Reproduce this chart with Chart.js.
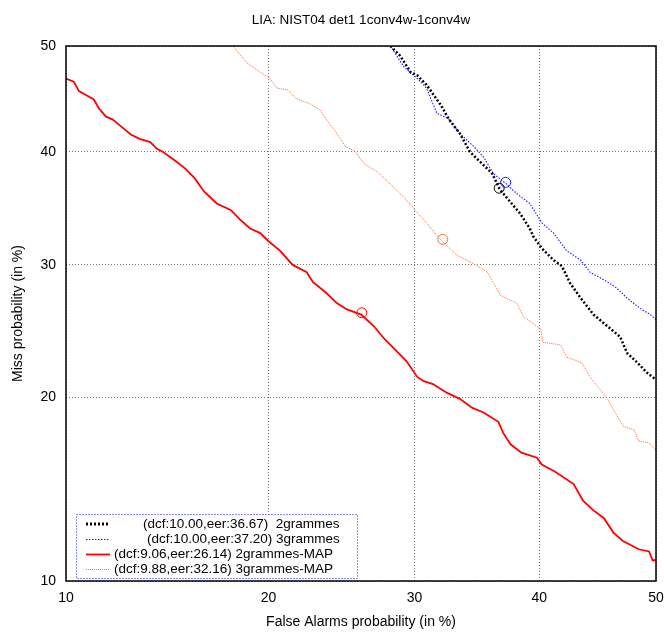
<!DOCTYPE html>
<html>
<head>
<meta charset="utf-8">
<script src="https://cdn.jsdelivr.net/npm/chart.js@4.4.0/dist/chart.umd.min.js"></script>
<style>
  html, body { margin: 0; padding: 0; background: #fff; }
</style>
</head>
<body>
<canvas id="detChart" width="664" height="632"></canvas>
<script>
// axis ticks (percent)
const tickValues = [10, 20, 30, 40, 50]

// 2grammes
const fa2g = [28.2, 28.9, 29.7, 30.2, 30.9, 32.0, 32.6, 33.5, 34.3, 35.1, 36.1, 36.7, 37.3, 38.4, 39.2, 39.5, 40.2, 41.2, 41.9, 42.6, 43.5, 44.6, 45.8, 46.9, 47.5, 48.4, 49.2, 50.0]
const miss2g = [50.0, 49.1, 47.5, 47.2, 46.3, 44.4, 43.1, 41.7, 40.0, 39.1, 38.0, 36.6, 35.8, 34.4, 33.1, 32.4, 31.4, 30.4, 29.9, 28.5, 27.3, 26.0, 25.1, 24.3, 23.1, 22.4, 21.7, 21.2]

// 3grammes
const fa3g = [28.2, 29.2, 30.2, 30.9, 31.7, 32.6, 33.5, 34.6, 35.4, 36.2, 37.2, 38.1, 39.2, 40.2, 41.2, 42.3, 43.5, 44.3, 45.8, 46.6, 47.5, 48.6, 49.5, 50.0]
const miss3g = [50.0, 48.0, 46.9, 46.0, 43.6, 43.1, 41.7, 40.5, 39.5, 38.0, 37.1, 36.2, 35.3, 33.6, 32.7, 31.2, 30.4, 29.4, 28.6, 28.1, 27.3, 26.5, 26.0, 25.6]

// 2grammes-MAP
const fa2gMap = [10.0, 10.3, 10.5, 10.8, 11.1, 11.3, 11.6, 11.9, 12.3, 12.7, 13.1, 13.6, 13.9, 14.2, 14.8, 15.3, 15.8, 16.3, 17.0, 17.8, 18.3, 18.9, 19.5, 20.0, 20.7, 21.5, 22.4, 22.8, 23.7, 24.4, 25.1, 26.1, 27.0, 27.8, 28.4, 29.4, 30.2, 30.7, 31.4, 32.5, 33.5, 34.5, 35.4, 36.6, 37.0, 37.6, 38.5, 39.8, 40.2, 41.3, 42.9, 43.7, 44.6, 45.5, 46.3, 47.1, 48.5, 49.4, 49.7, 50.0]
const miss2gMap = [46.9, 46.6, 45.7, 45.3, 44.9, 44.1, 43.3, 43.0, 42.3, 41.6, 41.2, 40.9, 40.3, 40.0, 39.2, 38.5, 37.6, 36.4, 35.3, 34.7, 33.9, 33.1, 32.7, 32.0, 31.2, 30.0, 29.4, 28.6, 27.7, 26.9, 26.4, 26.0, 25.1, 24.1, 23.5, 22.5, 21.4, 21.1, 20.9, 20.3, 19.9, 19.3, 19.0, 18.4, 17.7, 17.0, 16.5, 16.2, 15.8, 15.4, 14.7, 13.8, 13.3, 12.9, 12.2, 11.8, 11.4, 11.3, 10.9, 10.9]

// 3grammes-MAP
const fa3gMap = [17.9, 18.7, 19.5, 20.1, 20.5, 21.2, 21.7, 22.6, 23.3, 23.7, 24.3, 25.0, 25.7, 26.3, 27.2, 28.4, 29.4, 30.2, 30.9, 32.1, 33.3, 34.6, 35.7, 36.8, 38.1, 38.7, 40.1, 40.3, 41.8, 42.3, 43.6, 44.3, 45.2, 45.8, 46.3, 47.2, 48.1, 48.5, 49.4, 50.0]
const miss3gMap = [50.0, 48.4, 47.5, 46.9, 46.0, 45.8, 45.0, 44.5, 43.9, 43.0, 41.9, 40.5, 40.0, 38.9, 38.2, 36.8, 35.6, 34.5, 33.6, 32.0, 30.8, 30.1, 29.4, 27.5, 26.9, 25.8, 24.9, 23.9, 23.7, 22.8, 22.4, 21.4, 20.5, 19.9, 19.2, 18.1, 17.9, 17.2, 17.1, 16.6]

// operating points (eer) and legend text
const eerValues = [36.67, 37.20, 26.14, 32.16]
const legendLabels = [
    '(dcf:10.00,eer:36.67)  2grammes',
    '(dcf:10.00,eer:37.20) 3grammes',
    '(dcf:9.06,eer:26.14) 2grammes-MAP',
    '(dcf:9.88,eer:32.16) 3grammes-MAP'
]
const chartTitle = 'LIA: NIST04 det1 1conv4w-1conv4w'

// inverse normal cdf (Acklam), used for the DET axes
const probit = (p) => {
    const a = [-39.69683028665376, 220.9460984245205, -275.9285104469687, 138.3577518672690, -30.66479806614716, 2.506628277459239]
    const b = [-54.47609879822406, 161.5858368580409, -155.6989798598866, 66.80131188771972, -13.28068155288572]
    const c = [-0.007784894002430293, -0.3223964580411365, -2.400758277161838, -2.549732539343734, 4.374664141464968, 2.938163982698783]
    const d = [0.007784695709041462, 0.3224671290700398, 2.445134137142996, 3.754408661907416]
    const pl = 0.02425
    let q, r
    if (p < pl) {
        q = Math.sqrt(-2 * Math.log(p))
        return (((((c[0]*q+c[1])*q+c[2])*q+c[3])*q+c[4])*q+c[5]) / ((((d[0]*q+d[1])*q+d[2])*q+d[3])*q+1)
    }
    if (p > 1 - pl) {
        q = Math.sqrt(-2 * Math.log(1 - p))
        return -(((((c[0]*q+c[1])*q+c[2])*q+c[3])*q+c[4])*q+c[5]) / ((((d[0]*q+d[1])*q+d[2])*q+d[3])*q+1)
    }
    q = p - 0.5
    r = q * q
    return (((((a[0]*r+a[1])*r+a[2])*r+a[3])*r+a[4])*r+a[5])*q / (((((b[0]*r+b[1])*r+b[2])*r+b[3])*r+b[4])*r+1)
}

const normCdf = (z) => {
    const t = 1 / (1 + 0.3275911 * Math.abs(z) / Math.SQRT2)
    const y = 1 - (((((1.061405429*t - 1.453152027)*t) + 1.421413741)*t - 0.284496736)*t + 0.254829592)*t * Math.exp(-z*z/2)
    return z >= 0 ? (1 + y) / 2 : (1 - y) / 2
}

class ProbitScale extends Chart.Scale {
    static id = 'probit'
    static defaults = {}

    determineDataLimits() {
        this.min = this.options.min
        this.max = this.options.max
    }
    buildTicks() {
        return tickValues.map(v => ({ value: v }))
    }
    configure() {
        super.configure()
        this._zMin = probit(this.min / 100)
        this._zMax = probit(this.max / 100)
    }
    getLabelForValue(value) {
        return String(value)
    }
    getPixelForValue(value) {
        const z = probit(value / 100)
        return this.getPixelForDecimal((z - this._zMin) / (this._zMax - this._zMin))
    }
    getPixelForTick(index) {
        return this.getPixelForValue(this.ticks[index].value)
    }
    getValueForPixel(pixel) {
        const z = this._zMin + this.getDecimalForPixel(pixel) * (this._zMax - this._zMin)
        return normCdf(z) * 100
    }
}
Chart.register(ProbitScale)

const toPoints = (xs, ys) => xs.map((x, i) => ({ x: x, y: ys[i] }))

const seriesColors = ['#000000', '#1a1aff', '#ff0000', '#ff6a33']
const seriesDash = [[2, 2], [1.5, 1.5], [], [1, 1]]
const seriesWidth = [2.5, 1.1, 1.8, 1]

const curves = [
    toPoints(fa2g, miss2g),
    toPoints(fa3g, miss3g),
    toPoints(fa2gMap, miss2gMap),
    toPoints(fa3gMap, miss3gMap)
]

let datasets = curves.map((pts, i) => ({
    label: legendLabels[i],
    data: pts,
    showLine: true,
    borderColor: seriesColors[i],
    borderWidth: seriesWidth[i],
    borderDash: seriesDash[i],
    pointRadius: 0,
    tension: 0
}))

eerValues.forEach((v, i) => {
    datasets.push({
        label: 'eer' + i,
        data: [{ x: v, y: v }],
        showLine: false,
        pointRadius: 5,
        pointBorderWidth: 1,
        pointBorderColor: seriesColors[i],
        pointBackgroundColor: 'rgba(0,0,0,0)'
    })
})

const fontFamily = "'Liberation Sans', Arial, sans-serif"

// frame, title over the plot area and key box like gnuplot
const detDecor = {
    id: 'detDecor',
    afterDraw(chart) {
        const ctx = chart.ctx
        const area = chart.chartArea
        ctx.save()
        ctx.strokeStyle = '#000'
        ctx.lineWidth = 1.5
        ctx.strokeRect(area.left, area.top, area.right - area.left, area.bottom - area.top)

        ctx.fillStyle = '#000'
        ctx.font = '13.5px ' + fontFamily
        ctx.textAlign = 'center'
        ctx.textBaseline = 'middle'
        ctx.fillText(chartTitle, (area.left + area.right) / 2, 20)

        const box = { left: 76.5, top: 514.5, right: 357.5, bottom: 578.5 }
        ctx.fillStyle = '#fff'
        ctx.fillRect(box.left, box.top, box.right - box.left, box.bottom - box.top)
        ctx.setLineDash([1, 2])
        ctx.lineWidth = 1
        ctx.strokeStyle = '#1a1aff'
        ctx.strokeRect(box.left, box.top, box.right - box.left, box.bottom - box.top)

        const rowY = [524, 539.5, 554.5, 569.5]
        const textX = [143, 147, 114, 114]
        ctx.textAlign = 'left'
        legendLabels.forEach((label, i) => {
            ctx.beginPath()
            ctx.setLineDash(i === 0 ? [2, 2] : seriesDash[i])
            ctx.lineWidth = i === 0 ? 3 : seriesWidth[i]
            ctx.strokeStyle = seriesColors[i]
            ctx.moveTo(86, rowY[i])
            ctx.lineTo(110, rowY[i])
            ctx.stroke()
            ctx.fillStyle = '#000'
            ctx.fillText(label, textX[i], rowY[i])
        })
        ctx.restore()
    }
}

const detCtx = document.getElementById('detChart').getContext('2d')
const detChart = new Chart(detCtx, {
    type: 'scatter',
    data: { datasets: datasets },
    options: {
        responsive: false,
        animation: false,
        devicePixelRatio: 1,
        layout: { padding: { top: 46, right: 8 } },
        plugins: {
            legend: { display: false },
            tooltip: { enabled: false },
            title: { display: false }
        },
        scales: {
            x: {
                type: 'probit',
                min: 10,
                max: 50,
                afterFit: (scale) => {
                    scale.height = 51
                    scale.paddingLeft = 0
                    scale.paddingRight = 0
                },
                grid: { color: '#777', drawTicks: false, lineWidth: 1 },
                border: { display: false, dash: [1, 2] },
                ticks: { color: '#000', padding: 9, maxRotation: 0, font: { family: fontFamily, size: 14 } },
                title: {
                    display: true,
                    text: 'False Alarms probability (in %)',
                    color: '#000',
                    font: { family: fontFamily, size: 14 },
                    padding: { top: 0, bottom: 1 }
                }
            },
            y: {
                type: 'probit',
                min: 10,
                max: 50,
                afterFit: (scale) => {
                    scale.width = 66
                    scale.paddingTop = 0
                    scale.paddingBottom = 0
                },
                grid: { color: '#777', drawTicks: false, lineWidth: 1 },
                border: { display: false, dash: [1, 2] },
                ticks: { color: '#000', padding: 10, font: { family: fontFamily, size: 14 } },
                title: {
                    display: true,
                    text: 'Miss probability (in %)',
                    color: '#000',
                    font: { family: fontFamily, size: 14 },
                    padding: { top: 10, bottom: 0 }
                }
            }
        }
    },
    plugins: [detDecor]
})
</script>
</body>
</html>
